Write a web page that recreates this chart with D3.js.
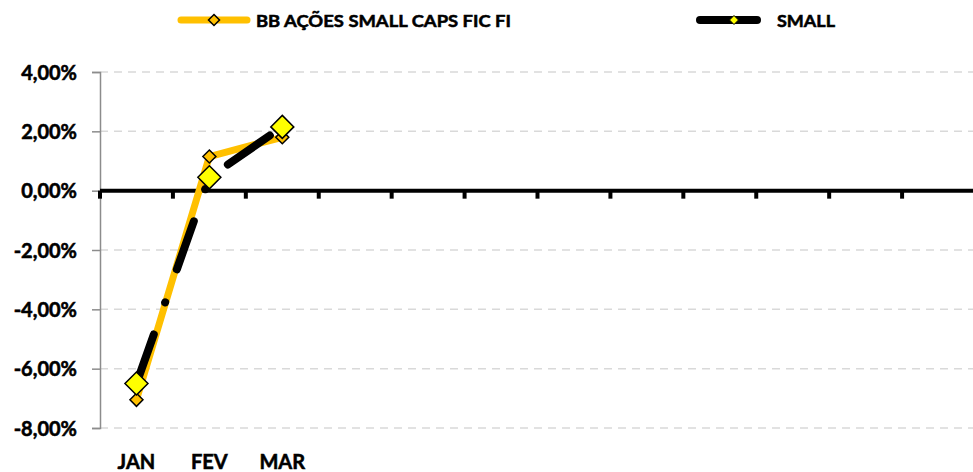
<!DOCTYPE html>
<html><head><meta charset="utf-8">
<script src="https://cdn.jsdelivr.net/npm/d3@7"></script>
<style>body{margin:0;background:#fff}svg{display:block}text{font-family:Lato,"Liberation Sans",Arial,sans-serif;font-weight:bold;fill:#000;stroke:#000;stroke-width:0.55px}</style>
</head><body><svg id="c" width="973" height="472"></svg>
<script>
const months = ["JAN","FEV","MAR","ABR","MAI","JUN","JUL","AGO","SET","OUT","NOV","DEZ"];
const monthLabels = ["JAN","FEV","MAR"];
const seriesNames = ["BB AÇÕES SMALL CAPS FIC FI","SMALL"];
const bbValues = [-7.05, 1.15, 1.8];
const smallValues = [-6.5, 0.45, 2.15];
const yTicks = [4, 2, 0, -2, -4, -6, -8];

const svg = d3.select("#c");
const x = d3.scaleBand().domain(months).range([100, 975]);
const y = d3.scaleLinear().domain([-8, 4]).range([428, 72]);
const cx = m => x(m) + x.bandwidth() / 2;

// gridlines
svg.append("g").selectAll("line").data(yTicks.filter(t => t !== 0)).join("line")
  .attr("x1", 100).attr("x2", 975).attr("y1", d => y(d)).attr("y2", d => y(d))
  .attr("stroke", "#d9d9d9").attr("stroke-width", 1.5).attr("stroke-dasharray", "8,6");

// y axis
const yAxis = d3.axisLeft(y).tickValues(yTicks).tickSize(8)
  .tickFormat(d => d3.format(".2f")(d).replace(".", ",").replace("−", "-") + "%");
const ya = svg.append("g").attr("transform", "translate(100,0)").call(yAxis);
ya.select(".domain").attr("stroke", "#8c8c8c").attr("stroke-width", 1.5);
ya.selectAll(".tick line").attr("stroke", "#8c8c8c").attr("stroke-width", 1.5);
ya.selectAll(".tick text").attr("x", -23).attr("font-size", 20).attr("dy", "0.35em")
  .style("font-family", 'Lato,"Liberation Sans",Arial,sans-serif').style("font-weight", "bold");

// zero line with category ticks
const xa = svg.append("g").attr("transform", `translate(0,${y(0)})`);
xa.append("line").attr("x1", 100).attr("x2", 975).attr("stroke", "#000").attr("stroke-width", 4);
xa.selectAll(".tk").data(months.concat(["end"])).join("line").attr("class", "tk")
  .attr("x1", (d, i) => i < 12 ? x(d) : 975).attr("x2", (d, i) => i < 12 ? x(d) : 975)
  .attr("y1", 0).attr("y2", 8).attr("stroke", "#000").attr("stroke-width", 4);

// x labels
svg.append("g").selectAll("text").data(monthLabels).join("text")
  .attr("x", d => cx(d)).attr("y", 469).attr("text-anchor", "middle")
  .attr("font-size", 20).text(d => d);

const line = d3.line().x((d, i) => cx(months[i])).y(d => y(d));
const diamond = (r) => `M0,${-r}L${r},0L0,${r}L${-r},0Z`;

// BB line
svg.append("path").datum(bbValues).attr("d", line).attr("fill", "none")
  .attr("stroke", "#FFC000").attr("stroke-width", 7).attr("stroke-linejoin", "round");
// SMALL line
svg.append("path").datum(smallValues).attr("d", line).attr("fill", "none")
  .attr("stroke", "#000").attr("stroke-width", 8).attr("stroke-linecap", "round")
  .attr("stroke-linejoin", "round").attr("stroke-dasharray", "51,34,0.1,35")
  .attr("stroke-dashoffset", -1);

// markers
svg.append("g").selectAll("path").data(bbValues).join("path")
  .attr("transform", (d, i) => `translate(${cx(months[i])},${y(d)})`)
  .attr("d", diamond(6.5)).attr("fill", "#FFC000").attr("stroke", "#000").attr("stroke-width", 1.5);
svg.append("g").selectAll("path").data(smallValues).join("path")
  .attr("transform", (d, i) => `translate(${cx(months[i])},${y(d)})`)
  .attr("d", diamond(11.5)).attr("fill", "#FFFF00").attr("stroke", "#000").attr("stroke-width", 1.5);

// legend
const lg = svg.append("g");
lg.append("line").attr("x1", 181).attr("x2", 247).attr("y1", 20).attr("y2", 20)
  .attr("stroke", "#FFC000").attr("stroke-width", 7).attr("stroke-linecap", "round");
lg.append("path").attr("transform", "translate(214,20)").attr("d", diamond(5.5))
  .attr("fill", "#FFC000").attr("stroke", "#000").attr("stroke-width", 1.5);
lg.append("text").attr("x", 256).attr("y", 26.5).attr("font-size", 17)
  .attr("textLength", 255).attr("lengthAdjust", "spacingAndGlyphs").text(seriesNames[0]);
lg.append("line").attr("x1", 700).attr("x2", 757).attr("y1", 20).attr("y2", 20)
  .attr("stroke", "#000").attr("stroke-width", 8).attr("stroke-linecap", "round");
lg.append("path").attr("transform", "translate(734,20)").attr("d", diamond(4.5))
  .attr("fill", "#FFFF00").attr("stroke", "#000").attr("stroke-width", 1);
lg.append("text").attr("x", 777).attr("y", 26.5).attr("font-size", 17)
  .attr("textLength", 58).attr("lengthAdjust", "spacingAndGlyphs").text(seriesNames[1]);
</script></body></html>
